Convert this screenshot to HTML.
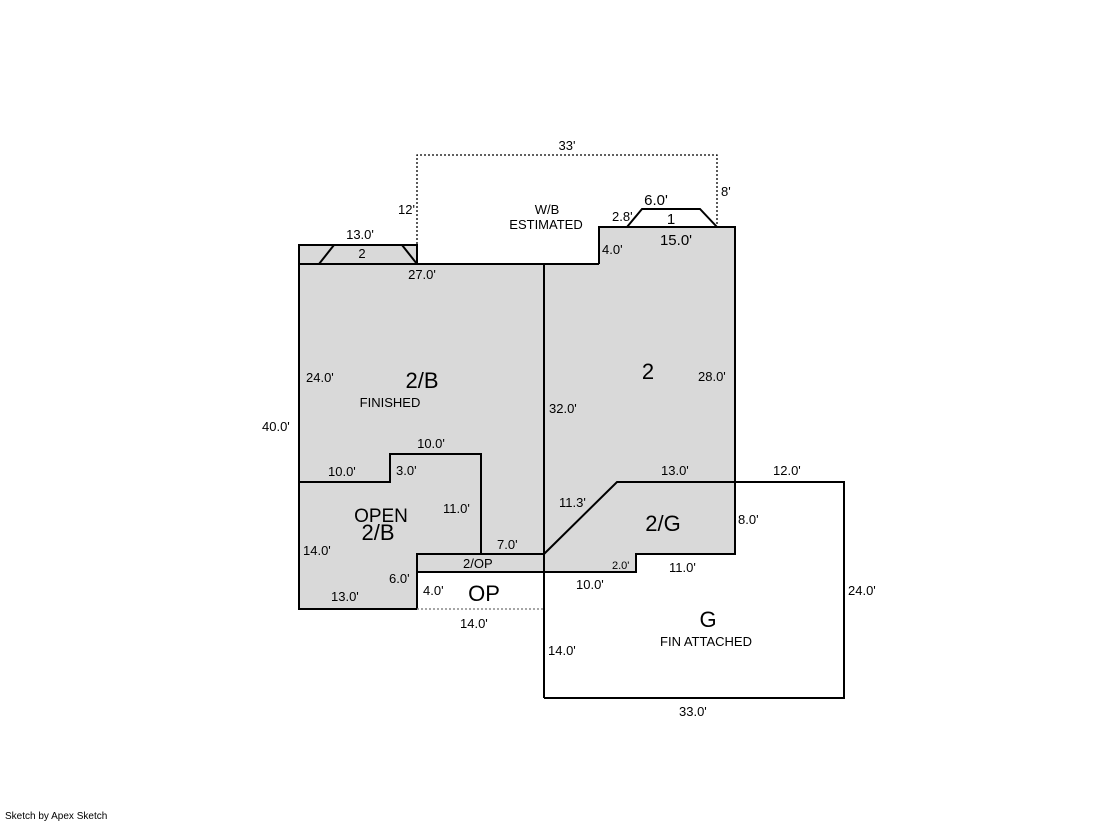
<!DOCTYPE html>
<html><head><style>
html,body{margin:0;padding:0;background:#fff;}
svg{display:block;}
text{font-family:"Liberation Sans",sans-serif;fill:#000;}
</style></head><body>
<svg width="1119" height="821" viewBox="0 0 1119 821" xmlns="http://www.w3.org/2000/svg">
<g fill="#d9d9d9" stroke="none">
<rect x="299" y="245" width="118" height="19"/>
<rect x="299" y="264" width="245" height="290"/>
<rect x="299" y="554" width="118" height="55"/>
<rect x="417" y="554" width="127" height="18"/>
<polygon points="544,264 599,264 599,227 735,227 735,554 636,554 636,572 544,572"/>
</g>
<g fill="none" stroke="#000" stroke-width="2">
<polyline points="417,609 299,609 299,245 417,245 417,264"/>
<line x1="299" y1="264" x2="599" y2="264"/>
<polyline points="599,264 599,227 735,227 735,554 636,554 636,572 417,572"/>
<line x1="544" y1="264" x2="544" y2="698"/>
<polyline points="319,264 334,245"/>
<polyline points="402,245 417,264"/>
<polyline points="627,227 642,209 700,209 717,227"/>
<polyline points="299,482 390,482 390,454 481,454 481,554"/>
<polyline points="544,554 417,554 417,609"/>
<polyline points="544,554 617,482 844,482 844,698 544,698"/>
</g>
<g fill="none" stroke="#000" stroke-width="1.3" stroke-dasharray="2,2">
<polyline points="417,264 417,155 717,155 717,227"/>
</g>
<line x1="417" y1="609" x2="544" y2="609" stroke="#888" stroke-width="1.5" stroke-dasharray="2,2"/>
<g font-size="13">
<text x="567" y="150" text-anchor="middle">33'</text>
<text x="398" y="214">12'</text>
<text x="721" y="196">8'</text>
<text x="547" y="214" text-anchor="middle">W/B</text>
<text x="546" y="229" text-anchor="middle">ESTIMATED</text>
<text x="612" y="221">2.8'</text>
<text x="602" y="254">4.0'</text>
<text x="360" y="239" text-anchor="middle">13.0'</text>
<text x="422" y="279" text-anchor="middle">27.0'</text>
<text x="306" y="382">24.0'</text>
<text x="262" y="431">40.0'</text>
<text x="549" y="413">32.0'</text>
<text x="698" y="381">28.0'</text>
<text x="390" y="407" text-anchor="middle">FINISHED</text>
<text x="431" y="448" text-anchor="middle">10.0'</text>
<text x="328" y="476">10.0'</text>
<text x="396" y="475">3.0'</text>
<text x="443" y="513">11.0'</text>
<text x="303" y="555">14.0'</text>
<text x="497" y="549">7.0'</text>
<text x="389" y="583">6.0'</text>
<text x="331" y="601">13.0'</text>
<text x="423" y="595">4.0'</text>
<text x="460" y="628">14.0'</text>
<text x="559" y="507">11.3'</text>
<text x="661" y="475">13.0'</text>
<text x="773" y="475">12.0'</text>
<text x="738" y="524">8.0'</text>
<text x="669" y="572">11.0'</text>
<text x="576" y="589">10.0'</text>
<text x="848" y="595">24.0'</text>
<text x="548" y="655">14.0'</text>
<text x="706" y="646" text-anchor="middle">FIN ATTACHED</text>
<text x="679" y="716">33.0'</text>
<text x="463" y="568">2/OP</text>
</g>
<text x="612" y="569" font-size="11">2.0'</text>
<g font-size="15">
<text x="362" y="258" text-anchor="middle" font-size="13">2</text>
<text x="671" y="224" text-anchor="middle">1</text>
<text x="656" y="205" text-anchor="middle">6.0'</text>
<text x="676" y="245" text-anchor="middle">15.0'</text>
</g>
<g font-size="22">
<text x="422" y="388" text-anchor="middle">2/B</text>
<text x="648" y="379" text-anchor="middle">2</text>
<text x="381" y="522" text-anchor="middle" font-size="19">OPEN</text>
<text x="378" y="540" text-anchor="middle">2/B</text>
<text x="663" y="531" text-anchor="middle">2/G</text>
<text x="484" y="601" text-anchor="middle">OP</text>
<text x="708" y="627" text-anchor="middle">G</text>
</g>
<text x="5" y="819" font-size="10">Sketch by Apex Sketch</text>
</svg>
</body></html>
